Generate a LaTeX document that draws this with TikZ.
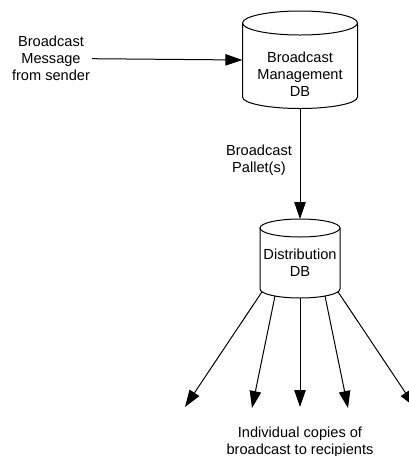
\documentclass[tikz,border=0pt]{standalone}
\usepackage{fontspec}
\setmainfont{Liberation Sans}
\usetikzlibrary{arrows.meta}

\begin{document}
\begin{tikzpicture}[x=1pt, y=1pt,
  every node/.style={font=\fontsize{14.6}{17}\selectfont, align=center, inner sep=0pt},
  body/.style={minimum width=#1, draw=none},
  flow/.style={line width=1pt, -{Triangle[length=17pt, width=11.5pt]}},
  cyl/.style={line width=1pt, fill=white}
]
\useasboundingbox (0,0) rectangle (409,-456);
\clip (0,0) rectangle (409,-456);

% --- Broadcast Management DB cylinder ---
\path[cyl] (242.5,-23) -- (242.5,-97)
  arc[start angle=180, end angle=360, x radius=57.5, y radius=11.5]
  -- (357.5,-23);
\draw[cyl] (300,-23) ellipse[x radius=57.5, y radius=12];
\draw[line width=1pt] (242.5,-23) -- (242.5,-97)
  arc[start angle=180, end angle=360, x radius=57.5, y radius=11.5]
  -- (357.5,-23);
\node[body=115pt, minimum height=74pt] (mgmt) at (300,-60) {};
\node (mgmtlabel) at (300,-74.7) {Broadcast\\Management\\DB};
\coordinate (mgmtbase) at (300,-108.5);

% --- Distribution DB cylinder ---
\path[cyl] (260,-228) -- (260,-289)
  arc[start angle=180, end angle=360, x radius=40, y radius=9]
  -- (340,-228);
\draw[cyl] (300,-228) ellipse[x radius=40, y radius=9];
\draw[line width=1pt] (260,-228) -- (260,-289)
  arc[start angle=180, end angle=360, x radius=40, y radius=9]
  -- (340,-228);
\node[body=80pt, minimum height=61pt] (dist) at (300,-258.5) {};
\node (distlabel) at (300,-262.7) {Distribution\\DB};
\coordinate (disttop) at (300,-219);

% --- incoming message ---
\node (sender) at (51,-58.7) {Broadcast\\Message\\from sender};
\draw[flow] ([xshift=2pt]sender.east) -- (mgmt.west);

% --- pallets to distribution ---
\node (pallet) at (259,-160) {Broadcast\\Pallet(s)};
\draw[flow] (mgmtbase) -- (disttop);

% --- fan-out to recipients ---
\coordinate (s1) at (262,-291.8);
\coordinate (s2) at (275,-296.0);
\coordinate (s3) at (300,-298);
\coordinate (s4) at (325,-296.0);
\coordinate (s5) at (338,-291.8);
\coordinate (r1) at (185,-407);
\coordinate (r2) at (252,-408);
\coordinate (r3) at (300,-407);
\coordinate (r4) at (348,-408);
\coordinate (r5) at (415,-407);
\foreach \i in {1,...,5} {
  \draw[flow] (s\i) -- (r\i);
}

\node (recipients) at (300,-442.2) {Individual copies of\\broadcast to recipients};
\end{tikzpicture}
\end{document}
